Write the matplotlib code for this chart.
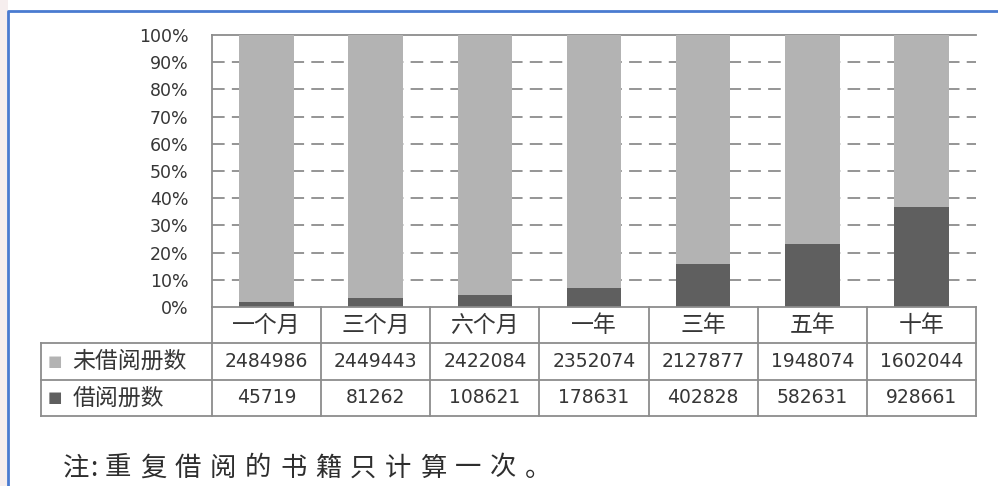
import matplotlib
matplotlib.use("Agg")
import matplotlib.pyplot as plt
from matplotlib.patches import Rectangle
from matplotlib.lines import Line2D

plt.rcParams['font.family'] = ['Noto Sans CJK SC', 'DejaVu Sans']

categories = ["一个月", "三个月", "六个月", "一年", "三年", "五年", "十年"]
unborrowed = [2484986, 2449443, 2422084, 2352074, 2127877, 1948074, 1602044]
borrowed = [45719, 81262, 108621, 178631, 402828, 582631, 928661]
series_names = ["未借阅册数", "借阅册数"]
yticks = [0, 10, 20, 30, 40, 50, 60, 70, 80, 90, 100]
note = "注:重复借阅的书籍只计算一次。"

light = "#b3b3b3"
dark = "#5f5f5f"
txt = "#363636"
line_c = "#8c8c8c"

W, H = 998, 486
fig = plt.figure(figsize=(W / 100, H / 100), dpi=100)
fig.patch.set_facecolor("white")


def box(x0, y0, x1, y1):
    # pixel box (top-left origin) -> figure fraction rect
    return [x0 / W, 1 - y1 / H, (x1 - x0) / W, (y1 - y0) / H]


# page background bits: pink strip + blue frame
fig.patches.append(Rectangle((0, 0), 8 / W, 1, transform=fig.transFigure,
                             facecolor="#f6eeee", edgecolor="none"))
fig.lines.append(Line2D([8 / W, 8 / W, 1], [0, 1 - 11 / H, 1 - 11 / H],
                        transform=fig.transFigure, color="#4a7bd0", lw=2))

# ---- stacked 100% bars
ax = fig.add_axes(box(212, 35, 976, 307))
totals = [u + b for u, b in zip(unborrowed, borrowed)]
pb = [b / t * 100 for b, t in zip(borrowed, totals)]
pu = [u / t * 100 for u, t in zip(unborrowed, totals)]
x = list(range(len(categories)))
ax.bar(x, pb, width=0.5, color=dark, zorder=3)
ax.bar(x, pu, width=0.5, bottom=pb, color=light, zorder=3)
ax.set_xlim(-0.5, len(categories) - 0.5)
ax.set_ylim(0, 100)
ax.set_yticks(yticks)
ax.set_yticklabels([f"{v}%" for v in yticks])
ax.set_xticks([])
ax.tick_params(axis="y", length=0, pad=17, labelsize=12.5, labelcolor=txt)
for lab in ax.get_yticklabels():
    lab.set_family("DejaVu Sans")
for v in yticks[1:-1]:
    ax.axhline(v, color=line_c, lw=1.3, ls=(0, (7, 4)), zorder=1)
ax.spines["right"].set_visible(False)
ax.spines["bottom"].set_visible(False)
for s in ("left", "top"):
    ax.spines[s].set_color(line_c)
    ax.spines[s].set_linewidth(1.3)

# ---- data table below
tb = fig.add_axes(box(212, 307, 976, 416))
tb.set_xlim(-0.5, len(categories) - 0.5)
tb.set_ylim(0, 3)
tb.axis("off")
left = -0.5 - (212 - 41) / (764 / len(categories))
right = len(categories) - 0.5
kw = dict(color=line_c, lw=1.3, clip_on=False)
tb.plot([-0.5, right], [3, 3], **kw)
tb.plot([left, right], [2, 2], **kw)
tb.plot([left, right], [1, 1], **kw)
tb.plot([left, right], [0, 0], **kw)
tb.plot([left, left], [0, 2], **kw)
for i in range(len(categories) + 1):
    tb.plot([i - 0.5, i - 0.5], [0, 3], **kw)

for i, c in enumerate(categories):
    tb.text(i, 2.5, c, ha="center", va="center", fontsize=16.5, color=txt)
    tb.text(i, 1.5, str(unborrowed[i]), ha="center", va="center",
            fontsize=13.5, color=txt, family="DejaVu Sans")
    tb.text(i, 0.5, str(borrowed[i]), ha="center", va="center",
            fontsize=13.5, color=txt, family="DejaVu Sans")

for row, name, col in ((1.5, series_names[0], light), (0.5, series_names[1], dark)):
    tb.text(left + 0.06, row, "■", ha="left", va="center", fontsize=11,
            color=col, family="DejaVu Sans", clip_on=False)
    tb.text(left + 0.29, row, name, ha="left", va="center", fontsize=16.5,
            color=txt, clip_on=False)

# note, spaced out like the original (wide letter spacing)
step = 35
px = 63
for ch in note:
    fig.text(px / W, 1 - 468 / H, ch, ha="left", va="center", fontsize=19,
             color="#2e2e2e")
    if ch == "注":
        px += step * 0.78
    elif ch == ":":
        px += step * 0.42
    else:
        px += step

fig.savefig("out.png", dpi=100)
